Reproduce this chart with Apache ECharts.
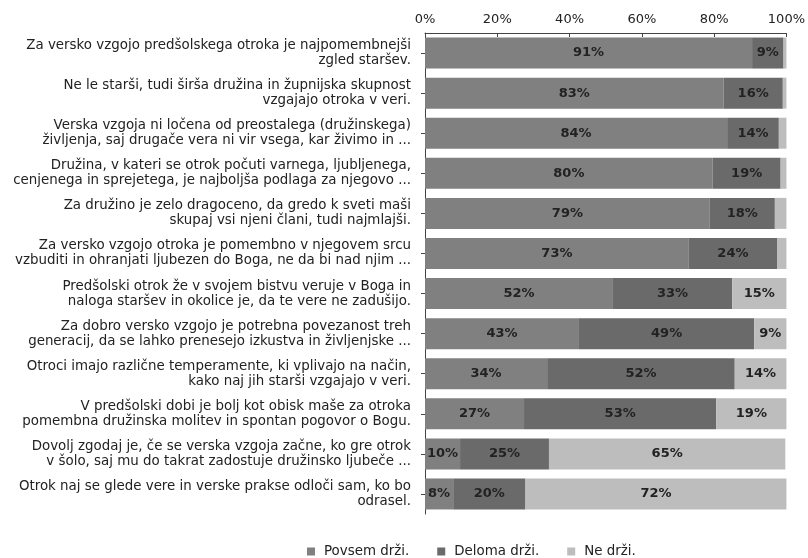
<!DOCTYPE html>
<html>
<head>
<meta charset="utf-8">
<script src="https://cdn.jsdelivr.net/npm/echarts@6/dist/echarts.min.js"></script>
<style>html,body{margin:0;padding:0;background:#fff;}#c{width:808px;height:558px;}</style>
</head>
<body>
<div id="c"></div>
<script>
const categories = [
  "Za versko vzgojo predšolskega otroka je najpomembnejši\nzgled staršev.",
  "Ne le starši, tudi širša družina in župnijska skupnost\nvzgajajo otroka v veri.",
  "Verska vzgoja ni ločena od preostalega (družinskega)\nživljenja, saj drugače vera ni vir vsega, kar živimo in ...",
  "Družina, v kateri se otrok počuti varnega, ljubljenega,\ncenjenega in sprejetega, je najboljša podlaga za njegovo ...",
  "Za družino je zelo dragoceno, da gredo k sveti maši\nskupaj vsi njeni člani, tudi najmlajši.",
  "Za versko vzgojo otroka je pomembno v njegovem srcu\nvzbuditi in ohranjati ljubezen do Boga, ne da bi nad njim ...",
  "Predšolski otrok že v svojem bistvu veruje v Boga in\nnaloga staršev in okolice je, da te vere ne zadušijo.",
  "Za dobro versko vzgojo je potrebna povezanost treh\ngeneracij, da se lahko prenesejo izkustva in življenjske ...",
  "Otroci imajo različne temperamente, ki vplivajo na način,\nkako naj jih starši vzgajajo v veri.",
  "V predšolski dobi je bolj kot obisk maše za otroka\npomembna družinska molitev in spontan pogovor o Bogu.",
  "Dovolj zgodaj je, če se verska vzgoja začne, ko gre otrok\nv šolo, saj mu do takrat zadostuje družinsko ljubeče ...",
  "Otrok naj se glede vere in verske prakse odloči sam, ko bo\nodrasel."
];
const seriesNames = ["Povsem drži.", "Deloma drži.", "Ne drži."];
const povsem = [90.5, 82.6, 83.6, 79.6, 78.8, 73.0, 52.0, 42.6, 33.8, 27.4, 9.7, 7.8];
const deloma = [8.7, 16.4, 14.3, 18.8, 18.0, 24.4, 33.0, 48.5, 51.9, 53.2, 24.6, 20.0];
const ne     = [0.8, 1.0, 2.1, 1.6, 3.2, 2.6, 15.0, 8.9, 14.3, 19.4, 65.4, 72.2];
const xTicks = [0, 20, 40, 60, 80, 100];

const colors = ["#808080", "#6a6a6a", "#bdbdbd"];
const fontFamily = "'DejaVu Sans', sans-serif";

function mk(name, data, color) {
  return {
    name: name, type: 'bar', stack: 'total', data: data, barWidth: 31,
    itemStyle: { color: color },
    label: {
      show: true, position: 'inside', color: '#222', fontSize: 13, fontWeight: 'bold',
      fontFamily: fontFamily,
      formatter: p => p.value < 5 ? '' : Math.round(p.value) + '%'
    },
    emphasis: { disabled: true }
  };
}

const chart = echarts.init(document.getElementById('c'));
chart.setOption({
  animation: false,
  backgroundColor: '#fff',
  textStyle: { fontFamily: fontFamily },
  grid: { left: 425, right: 19, top: 33, height: 481, containLabel: false },
  xAxis: {
    type: 'value', position: 'top', min: xTicks[0], max: xTicks[xTicks.length - 1], interval: 20,
    axisLine: { show: true, lineStyle: { color: '#444' } },
    axisTick: { show: true, inside: true, length: 4, lineStyle: { color: '#444' } },
    splitLine: { show: false },
    axisLabel: { formatter: '{value}%', color: '#222', fontSize: 13, margin: 7, fontFamily: fontFamily }
  },
  yAxis: {
    type: 'category', inverse: true, data: categories,
    axisLine: { show: true, lineStyle: { color: '#444' } },
    axisTick: { show: true, alignWithLabel: true, length: 4, lineStyle: { color: '#444' } },
    axisLabel: { color: '#222', fontSize: 13.4, margin: 14, lineHeight: 15, align: 'right', fontFamily: fontFamily, interval: 0 }
  },
  legend: {
    left: 307, top: 545, padding: 0, itemWidth: 8, itemHeight: 8, itemGap: 28,
    icon: 'rect',
    textStyle: { color: '#222', fontSize: 13.4, fontFamily: fontFamily, padding: [0, 0, 0, 4] },
    data: seriesNames
  },
  series: [mk(seriesNames[0], povsem, colors[0]), mk(seriesNames[1], deloma, colors[1]), mk(seriesNames[2], ne, colors[2])]
});
</script>
</body>
</html>
